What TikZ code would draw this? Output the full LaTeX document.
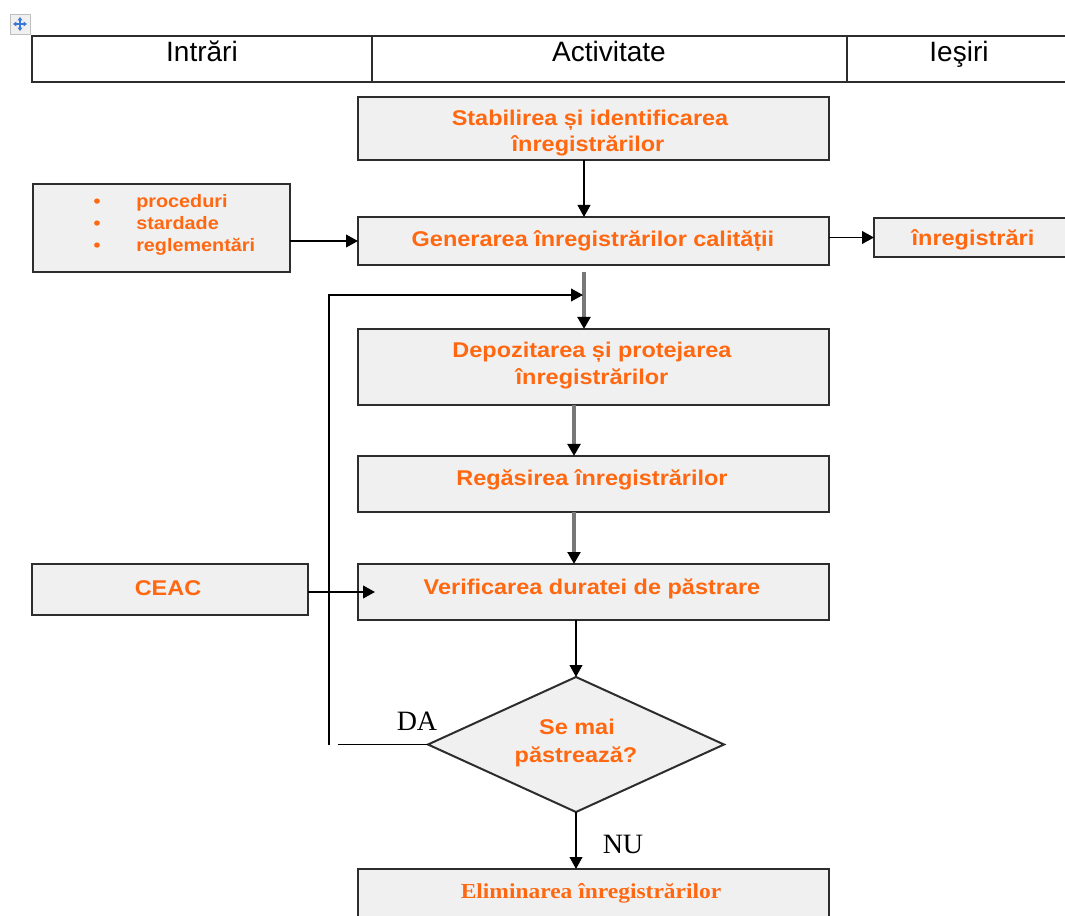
\documentclass[tikz,border=0pt]{standalone}
\usepackage{fontspec}
\setmainfont{Liberation Serif}
\newfontfamily\hdrfont{Liberation Sans}
\newfontfamily\orgfont{Liberation Sans Bold}[FakeStretch=1.1]
\newfontfamily\serbfont{Liberation Serif Bold}[FakeStretch=1.1]
\usetikzlibrary{arrows.meta,shapes.geometric}
\definecolor{orangetxt}{RGB}{255,104,16}
\definecolor{boxfill}{RGB}{240,240,240}
\definecolor{boxline}{RGB}{45,45,45}
\definecolor{flowgray}{RGB}{120,120,120}
\definecolor{handleblue}{RGB}{60,120,216}
\begin{document}
\begin{tikzpicture}[x=0.75pt,y=-0.75pt,
  sz/.style 2 args={minimum width=#1*0.75pt, minimum height=#2*0.75pt},
  box/.style={draw=boxline, fill=boxfill, line width=1.5pt, inner sep=0pt, outer sep=0pt},
  hcell/.style={draw=boxline, line width=1.5pt, inner sep=0pt, outer sep=0pt},
  htxt/.style={font=\hdrfont\fontsize{21}{25}\selectfont, anchor=base, inner sep=0pt},
  lbl/.style={font=\orgfont\fontsize{16}{19}\selectfont, text=orangetxt, anchor=base, inner sep=0pt},
  lblsmall/.style={font=\orgfont\fontsize{13.5}{16}\selectfont, text=orangetxt, anchor=base west, inner sep=0pt},
  bul/.style={font=\orgfont\fontsize{13.5}{16}\selectfont, text=orangetxt, anchor=base, inner sep=0pt},
  lblserif/.style={font=\serbfont\fontsize{16}{19}\selectfont, text=orangetxt, anchor=base, inner sep=0pt},
  yn/.style={font=\fontsize{21}{25}\selectfont, anchor=base, inner sep=0pt},
  arr/.style={line width=1.4pt, -{Triangle[length=9pt,width=9.5pt]}},
  garr/.style={draw=flowgray, line width=2.4pt, -{Triangle[length=9pt,width=9.5pt,black]}}
]
\path[use as bounding box, clip] (0,0) rectangle (1065,916);

% table move handle
\node[draw=black!25, fill=boxfill, line width=0.6pt, sz={20}{20}, inner sep=0pt] (hdl) at (20,24) {};
\draw[handleblue, line width=0.9pt, {Triangle[length=2.5pt,width=3.5pt]}-{Triangle[length=2.5pt,width=3.5pt]}]
  (hdl.center) ++(-7,0) -- ++(14,0);
\draw[handleblue, line width=0.9pt, {Triangle[length=2.5pt,width=3.5pt]}-{Triangle[length=2.5pt,width=3.5pt]}]
  (hdl.center) ++(0,-7) -- ++(0,14);

% header row
\node[hcell, sz={340}{46}] (h1) at (202,59) {};
\node[hcell, sz={475}{46}] (h2) at (609.5,59) {};
\node[hcell, sz={243}{46}] (h3) at (968.5,59) {};
\node[htxt] (h1t) at (202,62) {Intrări};
\node[htxt] (h2t) at (609,62) {Activitate};
\node[htxt] (h3t) at (959,62) {Ieşiri};

% activity boxes
\node[box, sz={471}{63}] (b1) at (593.5,128.5) {};
\node[box, sz={471}{48}] (b2) at (593.5,241) {};
\node[box, sz={471}{76}] (b3) at (593.5,367) {};
\node[box, sz={471}{56}] (b4) at (593.5,484) {};
\node[box, sz={471}{56}] (b5) at (593.5,592) {};
\node[box, sz={471}{71}] (b6) at (593.5,904.5) {};
\node[box, shape=diamond, sz={296}{135}] (d) at (576,744.5) {};

% input / output boxes
\node[box, sz={257}{88}] (lst) at (161.5,228) {};
\node[box, sz={276}{51}] (ceac) at (170,589.5) {};
\node[box, sz={216}{39}] (out) at (982,237.5) {};

% texts
\begin{scope}
  \clip (358,97) rectangle (829,160);
  \node[lbl] (t1a) at (590,126) {Stabilirea și identificarea};
  \node[lbl] (t1b) at (588,152) {înregistrărilor};
\end{scope}
\node[lbl] (t2) at (593,247) {Generarea înregistrărilor calității};
\node[lbl] (t3a) at (592,358) {Depozitarea și protejarea};
\node[lbl] (t3b) at (592,385) {înregistrărilor};
\node[lbl] (t4) at (592,486) {Regăsirea înregistrărilor};
\node[lbl] (t5) at (592,594) {Verificarea duratei de păstrare};
\node[lbl] (td1) at (577,734) {Se mai};
\node[lbl] (td2) at (576,762) {păstrează?};
\node[lblserif] (t6) at (591,898) {Eliminarea înregistrărilor};
\node[lbl] (tceac) at (168,595) {CEAC};
\begin{scope}
  \clip (874,218) rectangle (1065,251);
  \node[lbl] (tout) at (973,246) {înregistrări};
\end{scope}
\node[bul] (k1) at (97,208) {•};
\node[bul] (k2) at (97,230) {•};
\node[bul] (k3) at (97,252) {•};
\node[lblsmall] (s1) at (136,208) {proceduri};
\node[lblsmall] (s2) at (136,230) {stardade};
\node[lblsmall] (s3) at (136,252) {reglementări};

\node[yn] (da) at (417,730) {DA};
\node[yn] (nu) at (623,853) {NU};

% connectors
\coordinate (c1) at (584,0);
\coordinate (c2) at (574,0);
\coordinate (g0) at (584,272);
\coordinate (lb) at (329,745);
\coordinate (lt) at (583,295);
\coordinate (ct) at (375,592);
\coordinate (da0) at (338,0);

\draw[arr] (b1.south -| c1) -- (b2.north -| c1);
\draw[arr] (lst.east |- b2.west) -- (b2.west);
\draw[arr] (b2.east |- out.west) -- (out.west);
\draw[garr] (g0) -- (b3.north -| g0);
\draw[arr] (lb) |- (lt);
\draw[garr] (b3.south -| c2) -- (b4.north -| c2);
\draw[garr] (b4.south -| c2) -- (b5.north -| c2);
\draw[arr] (ceac.east |- ct) -- (ct);
\draw[arr] (b5.south -| d.north) -- (d.north);
\draw[line width=1.4pt] (d.west) -- (d.west -| da0);
\draw[arr] (d.south) -- (b6.north -| d.south);
\end{tikzpicture}
\end{document}
